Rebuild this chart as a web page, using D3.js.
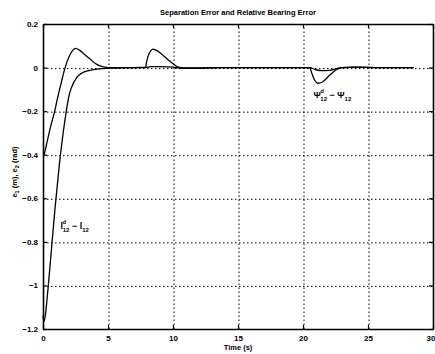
<!DOCTYPE html>
<html>
<head>
<meta charset="utf-8">
<script src="https://cdn.jsdelivr.net/npm/d3@7"></script>
<style>
  body { margin: 0; background: #fff; }
  text { font-family: "Liberation Sans", Arial, sans-serif; font-weight: bold; fill: #000; }
  .grid line { stroke: #000; stroke-width: 1; stroke-dasharray: 1.5 2.5; }
  .grid .domain { display: none; }
</style>
</head>
<body>
<div id="chart"></div>
<script>
// values
const xTicks = [0, 5, 10, 15, 20, 25, 30];
const yTicks = [0.2, 0, -0.2, -0.4, -0.6, -0.8, -1, -1.2];

// separation error e1 (m)
const sepTime = [0, 0.08, 0.2, 0.3, 0.41, 0.67, 0.92, 1.25, 1.55, 1.82, 2.0, 2.2, 2.6, 3.0, 3.5, 4.0, 5, 6, 7.9, 8.3, 9, 10, 10.5, 11, 12, 13, 16, 20, 20.5, 21, 21.5, 22, 22.5, 23, 24, 26, 28.5];
const sepErr = [-1.14, -1.165, -1.13, -1.07, -1.0, -0.82, -0.65, -0.45, -0.3, -0.19, -0.13, -0.09, -0.045, -0.025, -0.014, -0.008, -0.003, -0.001, 0, 0.004, 0.004, 0.002, -0.002, -0.003, -0.003, 0, 0, 0, 0, -0.01, -0.014, -0.013, -0.006, 0, 0.002, 0, 0];

// relative bearing error e2 (rad)
const brgTime = [0, 0.08, 0.15, 0.3, 0.47, 0.7, 0.9, 1.1, 1.4, 1.7, 2.0, 2.3, 2.5, 2.8, 3.2, 3.6, 4.0, 4.5, 5, 6, 7, 7.9, 7.95, 8.1, 8.3, 8.45, 8.7, 9.0, 9.25, 9.5, 9.77, 10.0, 10.3, 10.6, 11, 12, 14, 16, 18, 20, 20.5, 20.7, 20.9, 21.15, 21.5, 22, 22.5, 23, 24, 26, 28.5];
const brgErr = [-0.4, -0.398, -0.385, -0.345, -0.3, -0.245, -0.2, -0.145, -0.07, 0, 0.05, 0.08, 0.088, 0.08, 0.06, 0.04, 0.02, 0.005, 0, 0, 0, 0.002, 0.02, 0.055, 0.078, 0.085, 0.08, 0.068, 0.055, 0.042, 0.029, 0.018, 0.005, 0, -0.002, -0.002, 0, 0, 0, 0, 0, -0.03, -0.058, -0.072, -0.066, -0.038, -0.012, 0, 0.002, 0, 0];

const W = 435, H = 354;
const margin = { left: 43, right: 2, top: 24, bottom: 25 };

const svg = d3.select('#chart').append('svg')
  .attr('width', W)
  .attr('height', H);

const x = d3.scaleLinear([0, 30], [margin.left, W - margin.right]);
const y = d3.scaleLinear([-1.2, 0.2], [H - margin.bottom, margin.top]);
const plotW = x(30) - x(0);
const plotH = y(-1.2) - y(0.2);

// dotted grid, drawn as full-length axis ticks
svg.append('g')
  .attr('class', 'grid')
  .attr('transform', `translate(0.5,${y(-1.2)})`)
  .call(d3.axisBottom(x).tickValues(xTicks.slice(1, -1)).tickSize(-plotH).tickFormat(''));
svg.append('g')
  .attr('class', 'grid')
  .attr('transform', `translate(${x(0)},0.5)`)
  .call(d3.axisLeft(y).tickValues(yTicks.slice(1, -1)).tickSize(-plotW).tickFormat(''));

// axes with inward ticks
const fmt = d => d3.format('')(d).replace('-', '\u2212');

const xAxis = svg.append('g')
  .attr('transform', `translate(0,${y(-1.2)})`)
  .call(d3.axisBottom(x).tickValues(xTicks).tickSizeInner(-4).tickSizeOuter(0).tickPadding(6).tickFormat(fmt));
const xAxisTop = svg.append('g')
  .attr('transform', `translate(0,${y(0.2)})`)
  .call(d3.axisTop(x).tickValues(xTicks).tickSizeInner(-4).tickSizeOuter(0).tickFormat(''));
const yAxis = svg.append('g')
  .attr('transform', `translate(${x(0)},0)`)
  .call(d3.axisLeft(y).tickValues(yTicks).tickSizeInner(-4).tickSizeOuter(0).tickPadding(5).tickFormat(fmt));
const yAxisRight = svg.append('g')
  .attr('transform', `translate(${x(30)},0)`)
  .call(d3.axisRight(y).tickValues(yTicks).tickSizeInner(-4).tickSizeOuter(0).tickFormat(''));

[xAxis, xAxisTop, yAxis, yAxisRight].forEach(g => {
  g.select('.domain').attr('stroke', '#000').attr('stroke-width', 1.6);
  g.selectAll('.tick line').attr('stroke', '#000').attr('stroke-width', 1.2);
  g.selectAll('.tick text')
    .attr('font-family', '"Liberation Sans", Arial, sans-serif')
    .attr('font-weight', 'bold')
    .attr('font-size', 8)
    .attr('fill', '#000');
});
// last x label sits against the page edge
xAxis.selectAll('.tick text').filter(d => d === 30).attr('text-anchor', 'end').attr('dx', 2);

// curves
const line = d3.line()
  .x(d => x(d[0]))
  .y(d => y(d[1]))
  .curve(d3.curveMonotoneX);

svg.append('path')
  .datum(d3.zip(sepTime, sepErr))
  .attr('fill', 'none')
  .attr('stroke', '#000')
  .attr('stroke-width', 1.3)
  .attr('d', line);

svg.append('path')
  .datum(d3.zip(brgTime, brgErr))
  .attr('fill', 'none')
  .attr('stroke', '#000')
  .attr('stroke-width', 1.3)
  .attr('d', line);

// titles
svg.append('text')
  .attr('x', (x(0) + x(30)) / 2)
  .attr('y', 15)
  .attr('text-anchor', 'middle')
  .attr('font-size', 7.5)
  .text('Separation Error and Relative Bearing Error');

svg.append('text')
  .attr('x', (x(0) + x(30)) / 2)
  .attr('y', 350)
  .attr('text-anchor', 'middle')
  .attr('font-size', 7.5)
  .text('Time (s)');

const yl = svg.append('text')
  .attr('transform', `translate(17,172) rotate(-90)`)
  .attr('text-anchor', 'middle')
  .attr('font-size', 7.5);
yl.append('tspan').text('e');
yl.append('tspan').attr('font-size', 5.5).attr('dy', 2).text('1');
yl.append('tspan').attr('dy', -2).text(' (m),  e');
yl.append('tspan').attr('font-size', 5.5).attr('dy', 2).text('2');
yl.append('tspan').attr('dy', -2).text(' (rad)');

// annotations
function label(px, py, sym) {
  const t = svg.append('text')
    .attr('x', px)
    .attr('y', py)
    .attr('font-size', 9);
  t.append('tspan').text(sym);
  t.append('tspan').attr('font-size', 6).attr('dy', -5).attr('dx', -0.5).text('d');
  t.append('tspan').attr('font-size', 6).attr('dy', 8).attr('dx', -3.5).text('12');
  t.append('tspan').attr('dy', -3).text(' \u2212 ' + sym);
  t.append('tspan').attr('font-size', 6).attr('dy', 3).text('12');
}
label(x(1.35), y(-0.74), 'l');
label(x(20.8), y(-0.14), '\u03a8');
</script>
</body>
</html>
